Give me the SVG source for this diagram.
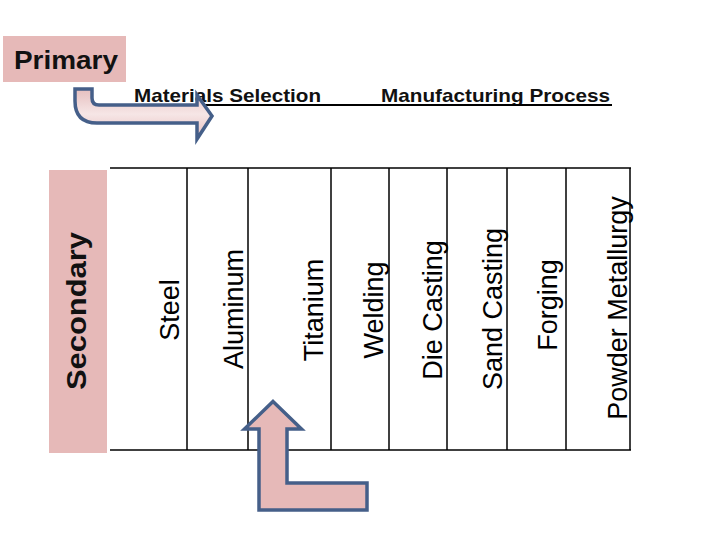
<svg xmlns="http://www.w3.org/2000/svg" width="720" height="540" viewBox="0 0 720 540">
  <style>
    .label { font-family: "Liberation Sans", Arial, sans-serif; font-size: 27px; fill: #000; text-anchor: middle; }
    .head { font-family: "Liberation Sans", Arial, sans-serif; font-weight: bold; fill: #111; }
    .grid { stroke: #000; stroke-width: 1.5; fill: none; }
    .pink { fill: #e6b9b8; }
    .arrow { stroke: #455f89; stroke-width: 3.5; stroke-linejoin: miter; }
  </style>
  <defs>
    <linearGradient id="lightPink" x1="0" y1="0" x2="0" y2="1">
      <stop offset="0" stop-color="#e6bfbf"/>
      <stop offset="0.5" stop-color="#f6e6e6"/>
      <stop offset="1" stop-color="#e6bfbf"/>
    </linearGradient>
  </defs>
  <rect width="720" height="540" fill="#fff"/>

  <g id="primary">
    <rect class="pink" x="3" y="36" width="123" height="46"/>
    <text class="head" x="14" y="69" font-size="26" textLength="104" lengthAdjust="spacingAndGlyphs">Primary</text>
  </g>

  <g id="secondary">
    <rect class="pink" x="49" y="170" width="58" height="283"/>
    <text class="head" font-size="28" text-anchor="middle" transform="translate(86 311) rotate(-90)" textLength="158" lengthAdjust="spacingAndGlyphs">Secondary</text>
  </g>

  <g id="headings">
    <text class="head" x="134" y="102" font-size="19" textLength="187" lengthAdjust="spacingAndGlyphs">Materials Selection</text>
    <text class="head" x="381" y="102" font-size="19" textLength="229" lengthAdjust="spacingAndGlyphs">Manufacturing Process</text>
    <line x1="133" y1="105" x2="612" y2="105" stroke="#000" stroke-width="2"/>
  </g>

  <g id="table">
    <line class="grid" x1="110" y1="168" x2="631" y2="168"/>
    <line class="grid" x1="110" y1="450" x2="631" y2="450"/>
    <line class="grid" x1="187" y1="168" x2="187" y2="450"/>
    <line class="grid" x1="248" y1="168" x2="248" y2="450"/>
    <line class="grid" x1="331" y1="168" x2="331" y2="450"/>
    <line class="grid" x1="389" y1="168" x2="389" y2="450"/>
    <line class="grid" x1="447" y1="168" x2="447" y2="450"/>
    <line class="grid" x1="507" y1="168" x2="507" y2="450"/>
    <line class="grid" x1="566" y1="168" x2="566" y2="450"/>
    <line class="grid" x1="630" y1="168" x2="630" y2="450"/>
  </g>

  <g id="steel"><text class="label" transform="translate(179 310) rotate(-90)">Steel</text></g>
  <g id="aluminum"><text class="label" transform="translate(243 309) rotate(-90)">Aluminum</text></g>
  <g id="titanium"><text class="label" transform="translate(323 310) rotate(-90)">Titanium</text></g>
  <g id="welding"><text class="label" transform="translate(383 310) rotate(-90)">Welding</text></g>
  <g id="die-casting"><text class="label" transform="translate(442 310) rotate(-90)">Die Casting</text></g>
  <g id="sand-casting"><text class="label" transform="translate(502 309) rotate(-90)">Sand Casting</text></g>
  <g id="forging"><text class="label" transform="translate(557 305) rotate(-90)">Forging</text></g>
  <g id="powder-metallurgy"><text class="label" transform="translate(627 308) rotate(-90)">Powder Metallurgy</text></g>

  <g id="connectors">
    <path class="arrow" fill="url(#lightPink)" d="M75 89 H92 V98 Q92 105 99 105 H197 V95 L212 116 L197 139 V123 H97 Q75 123 75 101 Z"/>
    <path class="arrow pink" d="M273 401.5 L301.5 429 H287 V483 H367 V510 H259 V429 H244.5 Z"/>
  </g>
</svg>
